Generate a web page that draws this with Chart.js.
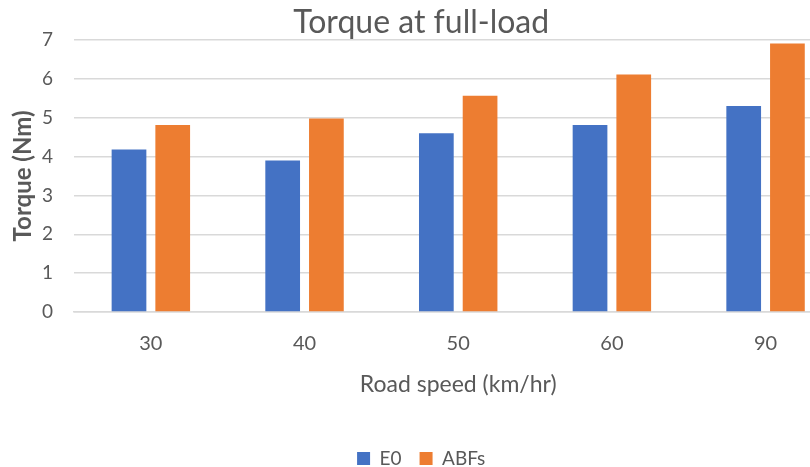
<!DOCTYPE html>
<html>
<head>
<meta charset="utf-8">
<script src="https://cdn.jsdelivr.net/npm/chart.js@4/dist/chart.umd.min.js"></script>
<style>
  html, body { margin: 0; padding: 0; background: #fff; overflow: hidden; }
  #wrap { position: relative; width: 850px; height: 467px; }
</style>
</head>
<body>
<div id="wrap"><canvas id="c"></canvas></div>
<script>
const categories = ['30', '40', '50', '60', '90'];
const e0Values = [4.18, 3.90, 4.60, 4.81, 5.30];
const abfValues = [4.81, 4.98, 5.56, 6.11, 6.91];
const yTicks = [0, 1, 2, 3, 4, 5, 6, 7];

const grey = '#595959';
const fontFamily = 'Lato, "Open Sans", sans-serif';

new Chart(document.getElementById('c'), {
  type: 'bar',
  data: {
    labels: categories,
    datasets: [
      { label: 'E0', data: e0Values, backgroundColor: '#4472C4', borderWidth: 0 },
      { label: 'ABFs', data: abfValues, backgroundColor: '#ED7D31', borderWidth: 0 }
    ]
  },
  options: {
    responsive: true,
    maintainAspectRatio: false,
    animation: false,
    devicePixelRatio: 1,
    layout: { padding: { left: 0, right: 7.6, top: 0, bottom: -11 } },
    datasets: { bar: { categoryPercentage: 0.569, barPercentage: 0.794 } },
    plugins: {
      title: {
        display: true,
        text: 'Torque at full-load',
        color: grey,
        font: { family: fontFamily, size: 32, weight: '400' },
        padding: { top: 3.5, bottom: -2 }
      },
      legend: {
        display: true,
        position: 'bottom',
        labels: {
          color: grey,
          font: { family: fontFamily, size: 19 },
          boxWidth: 13,
          boxHeight: 13,
          padding: 18
        }
      },
      tooltip: { enabled: false }
    },
    scales: {
      x: {
        grid: { display: false, drawTicks: false },
        border: { display: true, color: '#d9d9d9', width: 1.5 },
        ticks: { color: grey, font: { family: fontFamily, size: 20 }, padding: 20 },
        title: {
          display: true,
          text: 'Road speed (km/hr)',
          color: grey,
          font: { family: fontFamily, size: 23 },
          padding: { top: -4.8, bottom: 32.2 }
        }
      },
      y: {
        min: 0,
        max: 7,
        afterBuildTicks: (axis) => { axis.ticks = yTicks.map(v => ({ value: v })); },
        grid: { color: '#d9d9d9', lineWidth: 1.5, drawTicks: false },
        border: { display: false },
        ticks: { color: grey, font: { family: fontFamily, size: 19 }, padding: 21 },
        title: {
          display: true,
          text: 'Torque (Nm)',
          color: grey,
          font: { family: fontFamily, size: 24, weight: 'bold' },
          padding: { top: 8.6, bottom: -16.4 }
        }
      }
    }
  }
});
</script>
</body>
</html>
